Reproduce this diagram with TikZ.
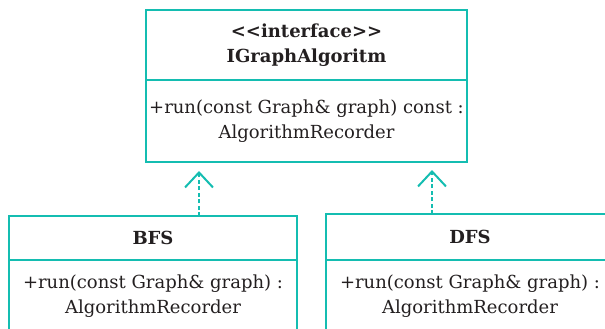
\documentclass[tikz,border=0pt]{standalone}
\usepackage{fontspec}
\setmainfont{DejaVu Serif}
\usetikzlibrary{positioning,arrows.meta}
\definecolor{umlteal}{HTML}{14BDB1}
\definecolor{umltext}{HTML}{231F20}

\begin{document}
\begin{tikzpicture}[
			x = 1pt, y = 1pt,
			every node/.style = {text = umltext, font = \fontsize{18}{24.5}\selectfont},
			classhead/.style = {draw = umlteal, line width = 2.6pt, outer sep = 0pt, inner sep = 0pt,
				align = center, font = \fontsize{18}{24.5}\selectfont\bfseries,
				minimum width = 288pt, minimum height = 44pt},
			classbody/.style = {draw = umlteal, line width = 2.6pt, outer sep = 0pt, inner sep = 0pt,
				align = center, minimum width = 288pt, minimum height = 72pt},
			realize/.style = {umlteal, line width = 1.4pt, dash pattern = on 4pt off 2.5pt,
				-{Straight Barb[length = 15pt, width = 28pt, line width = 2pt]}}
			]

			\useasboundingbox (0,0) rectangle (605,-329);
			\clip (0,0) rectangle (605,-329);

			% interface
			\node[classhead, minimum width = 321pt, minimum height = 70pt] (ifaceHead) at (306.5,-45)
				{<{}<interface>{}>\\IGraphAlgoritm};
			\node[classbody, minimum width = 321pt, minimum height = 82pt, below = 0pt of ifaceHead] (ifaceBody)
				{+run(const Graph\& graph) const :\\AlgorithmRecorder};

			% implementations
			\node[classhead] (bfsHead) at (153,-238) {BFS};
			\node[classbody, below = 0pt of bfsHead] (bfsBody) {+run(const Graph\& graph) :\\AlgorithmRecorder};

			\node[classhead, minimum height = 46pt] (dfsHead) at (470,-237) {DFS};
			\node[classbody, below = 0pt of dfsHead] (dfsBody) {+run(const Graph\& graph) :\\AlgorithmRecorder};

			\coordinate (bfsTip) at ([xshift = 53pt, yshift = -9pt]ifaceBody.south west);
			\coordinate (dfsTip) at ([xshift = 286pt, yshift = -8pt]ifaceBody.south west);

			\draw[realize] (bfsHead.north -| bfsTip) -- (bfsTip);
			\draw[realize] (dfsHead.north -| dfsTip) -- (dfsTip);

		\end{tikzpicture}
\end{document}
